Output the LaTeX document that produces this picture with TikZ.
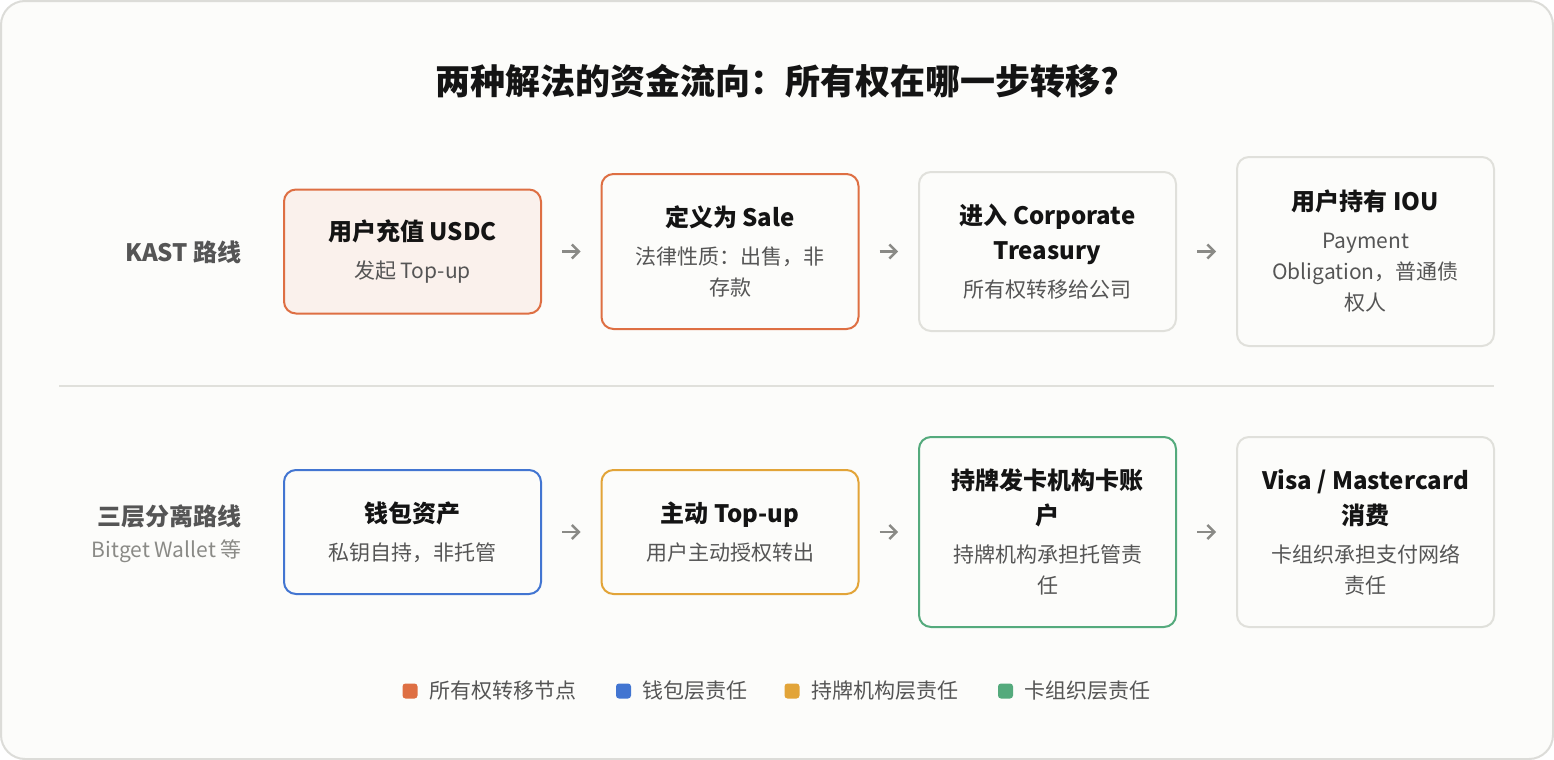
\documentclass[tikz,border=0pt]{standalone}
\usepackage{fontspec}
\setmainfont{Noto Sans CJK SC}
\usetikzlibrary{positioning,arrows.meta}
\definecolor{fondo}{HTML}{FCFCFA}
\definecolor{marco}{HTML}{DCDCD8}
\definecolor{borde}{HTML}{E0E0DB}
\definecolor{tinta}{HTML}{141414}
\definecolor{texto}{HTML}{555555}
\definecolor{tenue}{HTML}{8A8A86}
\definecolor{flechagris}{HTML}{8A8A86}
\definecolor{naranja}{HTML}{DE6F43}
\definecolor{naranjaclaro}{HTML}{FAF1EC}
\definecolor{azul}{HTML}{4275D1}
\definecolor{ambar}{HTML}{E2A438}
\definecolor{verde}{HTML}{54AA7C}
\newcommand\tit[1]{{\fontsize{12}{17.5}\selectfont\bfseries\color{tinta}#1}}
\begin{document}
\begin{tikzpicture}[x=0.5pt, y=-0.5pt,
    paso/.style={rounded corners=6pt, line width=1pt, draw=borde, fill=fondo,
      minimum width=128.5pt, align=center, text=texto,
      font=\fontsize{10.5}{15.5}\selectfont},
    flecha/.style={-{Straight Barb[length=3.5pt,width=7pt]}, line width=1.2pt,
      draw=flechagris, shorten <=10pt, shorten >=10pt},
    ruta/.style={anchor=east, inner sep=0pt},
    marca/.style={rounded corners=1.5pt, minimum size=7.5pt, inner sep=0pt},
    leyenda/.style={font=\fontsize{10.5}{12}\selectfont, text=texto, inner sep=0pt}]
    \useasboundingbox (0,0) rectangle (1554,760);
    \draw[fill=fondo, draw=marco, line width=1pt, rounded corners=12pt] (1,1) rectangle (1553,759);
    \node[font=\fontsize{17.5}{20}\selectfont\bfseries, text=tinta] (titulo) at (777,81)
        {两种解法的资金流向：所有权在哪一步转移?};
    % KAST 路线
    \node[ruta, font=\fontsize{12}{14}\selectfont\bfseries, text=texto] (rkast) at (242,252) {KAST 路线};
    \node[paso, draw=naranja, fill=naranjaclaro, minimum height=62pt] (kast1) at (412.5,251.5)
        {\tit{用户充值 USDC}\\[3.5pt] 发起 Top-up};
    \node[paso, draw=naranja, minimum height=77.5pt] (kast2) at (730,251.5)
        {\tit{定义为 Sale}\\[3.5pt] 法律性质：出售，非\\ 存款};
    \node[paso, minimum height=79.5pt] (kast3) at (1047.5,251.5)
        {\tit{进入 Corporate}\\[2pt] \tit{Treasury}\\[3.5pt] 所有权转移给公司};
    \node[paso, minimum height=94.5pt] (kast4) at (1365.5,251.5)
        {\tit{用户持有 IOU}\\[3.5pt] Payment\\ Obligation，普通债\\ 权人};
    \draw[flecha] (kast1) -- (kast2);
    \draw[flecha] (kast2) -- (kast3);
    \draw[flecha] (kast3) -- (kast4);
    % 分隔线
    \draw[line width=0.75pt, draw=borde] (59,386) -- (1494,386);
    % 三层分离路线
    \node[ruta, font=\fontsize{12}{14}\selectfont\bfseries, text=texto] (rcapa) at (242,516) {三层分离路线};
    \node[ruta, font=\fontsize{10.5}{12}\selectfont, text=tenue] (rbitget) at (242,551) {Bitget Wallet 等};
    \node[paso, draw=azul, minimum height=62pt] (capa1) at (412.5,532)
        {\tit{钱包资产}\\[3.5pt] 私钥自持，非托管};
    \node[paso, draw=ambar, minimum height=62pt] (capa2) at (730,532)
        {\tit{主动 Top-up}\\[3.5pt] 用户主动授权转出};
    \node[paso, draw=verde, minimum height=95pt] (capa3) at (1047.5,532)
        {\tit{持牌发卡机构卡账}\\[2pt] \tit{户}\\[3.5pt] 持牌机构承担托管责\\ 任};
    \node[paso, minimum height=95pt] (capa4) at (1365.5,532)
        {\tit{Visa / Mastercard}\\[2pt] \tit{消费}\\[3.5pt] 卡组织承担支付网络\\ 责任};
    \draw[flecha] (capa1) -- (capa2);
    \draw[flecha] (capa2) -- (capa3);
    \draw[flecha] (capa3) -- (capa4);
    % 图例
    \node[marca, fill=naranja] (m1) at (410,691) {};
    \node[leyenda, right=5.5pt of m1] (l1) {所有权转移节点};
    \node[marca, fill=azul] (m2) at (623.5,691) {};
    \node[leyenda, right=5.5pt of m2] (l2) {钱包层责任};
    \node[marca, fill=ambar] (m3) at (792,691) {};
    \node[leyenda, right=5.5pt of m3] (l3) {持牌机构层责任};
    \node[marca, fill=verde] (m4) at (1005.5,691) {};
    \node[leyenda, right=5.5pt of m4] (l4) {卡组织层责任};
\end{tikzpicture}
\end{document}
